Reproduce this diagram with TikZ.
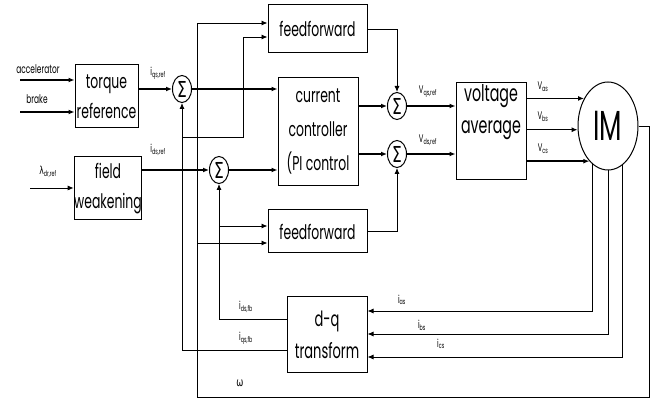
\documentclass[tikz,border=0pt]{standalone}
\usepackage{fontspec}
\setmainfont{Poppins}[FakeStretch=0.62]
\newfontfamily\grk{DejaVu Sans}[FakeStretch=0.7]
\usetikzlibrary{arrows.meta,shapes.geometric,calc}
\newcommand\sgl[2]{#1\textsubscript{#2}}
\begin{document}
\begin{tikzpicture}[x=1pt,y=-1pt,
  box/.style={draw,line width=1pt,rectangle,inner sep=0pt,align=center,font=\fontsize{20}{30}\selectfont},
  sumnode/.style={draw,ellipse,line width=1pt,minimum width=19pt,minimum height=27pt,inner sep=0pt,font=\grk\fontsize{22}{22}\selectfont},
  sig/.style={-{Latex[length=6pt,width=5pt]},line width=1.4pt},
  fb/.style={-{Latex[length=6pt,width=5pt]},line width=0.9pt},
  lab/.style={font=\fontsize{11}{11}\selectfont,inner sep=1pt}]
\useasboundingbox[fill=white] (0,0) rectangle (657,398);

% blocks
\node[box,minimum width=63pt,minimum height=63pt] (tr) at (106.5,96.5) {torque\\reference};
\node[box,minimum width=60pt,minimum height=63pt] (fw) at (108,188.5) {field\\weakening};
\node[box,minimum width=99pt,minimum height=48pt] (ff1) at (317.5,29) {feedforward};
\node[box,minimum width=80pt,minimum height=108pt,font=\fontsize{20}{34}\selectfont] (cc) at (318,132) {current\\controller\\(PI control};
\node[box,minimum width=99pt,minimum height=43pt] (ff2) at (317.5,231.5) {feedforward};
\node[box,minimum width=70pt,minimum height=97pt] (va) at (491,131.5) {};
\node[align=center,inner sep=0pt,font=\fontsize{23}{32}\selectfont] (vat) at (491,112) {voltage\\average};
\node[draw,ellipse,line width=1pt,minimum width=60pt,minimum height=88pt,inner sep=0pt,font=\fontsize{42}{42}\selectfont] (im) at (608,126) {IM};
\node[box,minimum width=80pt,minimum height=76pt,font=\fontsize{21}{32}\selectfont] (dq) at (327,335) {d-q\\transform};

% summing junctions
\node[sumnode] (s1) at (182,89) {Σ};
\node[sumnode] (s2) at (219,170) {Σ};
\node[sumnode] (s3) at (397,106) {Σ};
\node[sumnode] (s4) at (397,154) {Σ};

% inputs
\coordinate (acc) at (20,80);
\coordinate (brk) at (20,112);
\coordinate (lam) at (30,188);
\draw[sig] (acc) -- (acc -| tr.west);
\draw[sig] (brk) -- (brk -| tr.west);
\draw[fb] (lam) -- (lam -| fw.west);
\node[lab,font=\fontsize{12}{12}\selectfont] (lacc) at (38,69) {accelerator};
\node[lab,font=\fontsize{12}{12}\selectfont] (lbrk) at (37,99) {brake};
\node[lab] (llam) at (48,172) {{\grk λ}\textsubscript{dr,ref}};

% forward path
\draw[sig] (tr.east |- s1) -- (s1.west);
\node[lab] (liq) at (158,73) {\sgl{i}{qs,ref}};
\draw[sig] (fw.east |- s2) -- (s2.west);
\node[lab] (lid) at (158,150) {\sgl{i}{ds,ref}};
\draw[sig] (s1.east) -- (s1.east -| cc.west);
\draw[sig] (s2.east) -- (s2.east -| cc.west);
\draw[sig] (cc.east |- s3) -- (s3.west);
\draw[sig] (cc.east |- s4) -- (s4.west);
\draw[sig] (s3.east) -- (s3.east -| va.west);
\draw[sig] (s4.east) -- (s4.east -| va.west);
\node[lab] (lvq) at (428,92) {\sgl{V}{qs,ref}};
\node[lab] (lvd) at (428,140) {\sgl{V}{ds,ref}};
\draw[fb] (ff1.east) -| (s3.north);
\draw[fb] (ff2.east) -| (s4.south);

% voltage average to IM
\draw[sig] (va.east |- im.131.6) -- (im.131.6);
\draw[sig] (va.east |- im.187.6) -- (im.187.6);
\draw[sig] (va.east |- im.242.8) -- (im.242.8);
\node[lab] (lva) at (543,87) {\sgl{V}{as}};
\node[lab] (lvb) at (543,117) {\sgl{V}{bs}};
\node[lab] (lvc) at (543,149) {\sgl{V}{cs}};

% IM currents to d-q transform
\draw[fb] (im.248.5) |- (dq.east |- 0,311);
\draw[fb] (im.south) |- (dq.east |- 0,334);
\draw[fb] (im.291.5) |- (dq.east |- 0,357);
\node[lab] (lia) at (402,300) {\sgl{i}{as}};
\node[lab] (lib) at (422,325) {\sgl{i}{bs}};
\node[lab] (lic) at (441,344) {\sgl{i}{cs}};

% speed feedback
\coordinate (wr) at (649,397);
\coordinate (wl) at (197,397);
\draw[fb] (im.east) -| (wr) -- (wl) |- (ff1.west |- 0,23);
\draw[fb] (wl |- 0,243) -- (ff2.west |- 0,243);
\node[lab,font=\grk\fontsize{12}{12}\selectfont] (lw) at (240,383) {ω};

% current feedback
\coordinate (bq) at (243,137);
\draw[fb] (dq.west |- 0,350) -| (s1.south);
\draw[fb] (s1.south |- bq) -- (bq) |- (ff1.west |- 0,37);
\node[lab] (lqf) at (246,338) {\sgl{i}{qs,fb}};
\draw[fb] (dq.west |- 0,319) -| (s2.south);
\draw[fb] (s2.south |- 0,226) -- (ff2.west |- 0,226);
\node[lab] (ldf) at (246,307) {\sgl{i}{ds,fb}};
\end{tikzpicture}
\end{document}
